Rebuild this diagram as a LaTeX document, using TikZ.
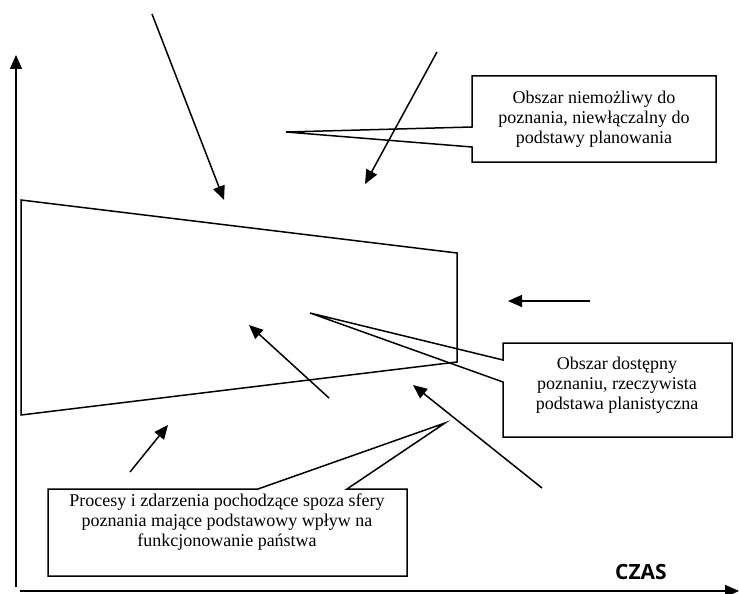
\documentclass[tikz,border=0pt]{standalone}
\usepackage{fontspec}
\setmainfont{Liberation Serif}
\newfontfamily\czasfont{Open Sans}
\usetikzlibrary{arrows.meta}
\tikzset{
  ln/.style={line width=1.5pt, line join=miter},
  arr/.style={ln, -{Triangle[length=14pt,width=12pt]}},
  lbl/.style={align=center, inner sep=0pt, font=\fontsize{18}{20}\selectfont},
}
\begin{document}
\begin{tikzpicture}[x=1pt,y=-1pt]
\useasboundingbox (0,0) rectangle (739,594);
% axes
\coordinate (yb) at (16,587);
\coordinate (yt) at (16,55);
\coordinate (xl) at (20,591);
\coordinate (xr) at (739,591);
\draw[arr] (yb) -- (yt);
\draw[arr] (xl) -- (xr);
\node[font=\czasfont\bfseries\fontsize{21}{24}\selectfont, anchor=base] (czas) at (641,579) {CZAS};
% trapezoid
\draw[ln] (21,200) -- (457,253) -- (457,362) -- (21,415) -- cycle;
% arrows
\coordinate (a1s) at (152,14);   \coordinate (a1e) at (224,200);
\coordinate (a2s) at (437,52);   \coordinate (a2e) at (365,184);
\coordinate (a3s) at (590,301);  \coordinate (a3e) at (508,301);
\coordinate (a4s) at (329,398);  \coordinate (a4e) at (249,325);
\coordinate (a5s) at (130,472);  \coordinate (a5e) at (168,425);
\coordinate (a6s) at (542,488);  \coordinate (a6e) at (413,385);
\foreach \i in {1,...,6} \draw[arr] (a\i s) -- (a\i e);
% callout 1
\draw[ln] (472,127) -- (286,132) -- (472,147) -- (472,162) -- (716,162) -- (716,76) -- (472,76) -- cycle;
\node[lbl] (t1) at (594,119) {Obszar niemożliwy do\\poznania, niewłączalny do\\podstawy planowania};
% callout 2
\draw[ln] (503,360) -- (310,313) -- (503,382) -- (503,437) -- (732,437) -- (732,343) -- (503,343) -- cycle;
\node[lbl] (t2) at (617,385) {Obszar dostępny\\poznaniu, rzeczywista\\podstawa planistyczna};
% callout 3
\draw[ln] (258,489) -- (445,423) -- (347,489) -- (407,489) -- (407,576) -- (48,576) -- (48,489) -- cycle;
\node[lbl] (t3) at (227,522) {Procesy i zdarzenia pochodzące spoza sfery\\poznania mające podstawowy wpływ na\\funkcjonowanie państwa};
\end{tikzpicture}
\end{document}
